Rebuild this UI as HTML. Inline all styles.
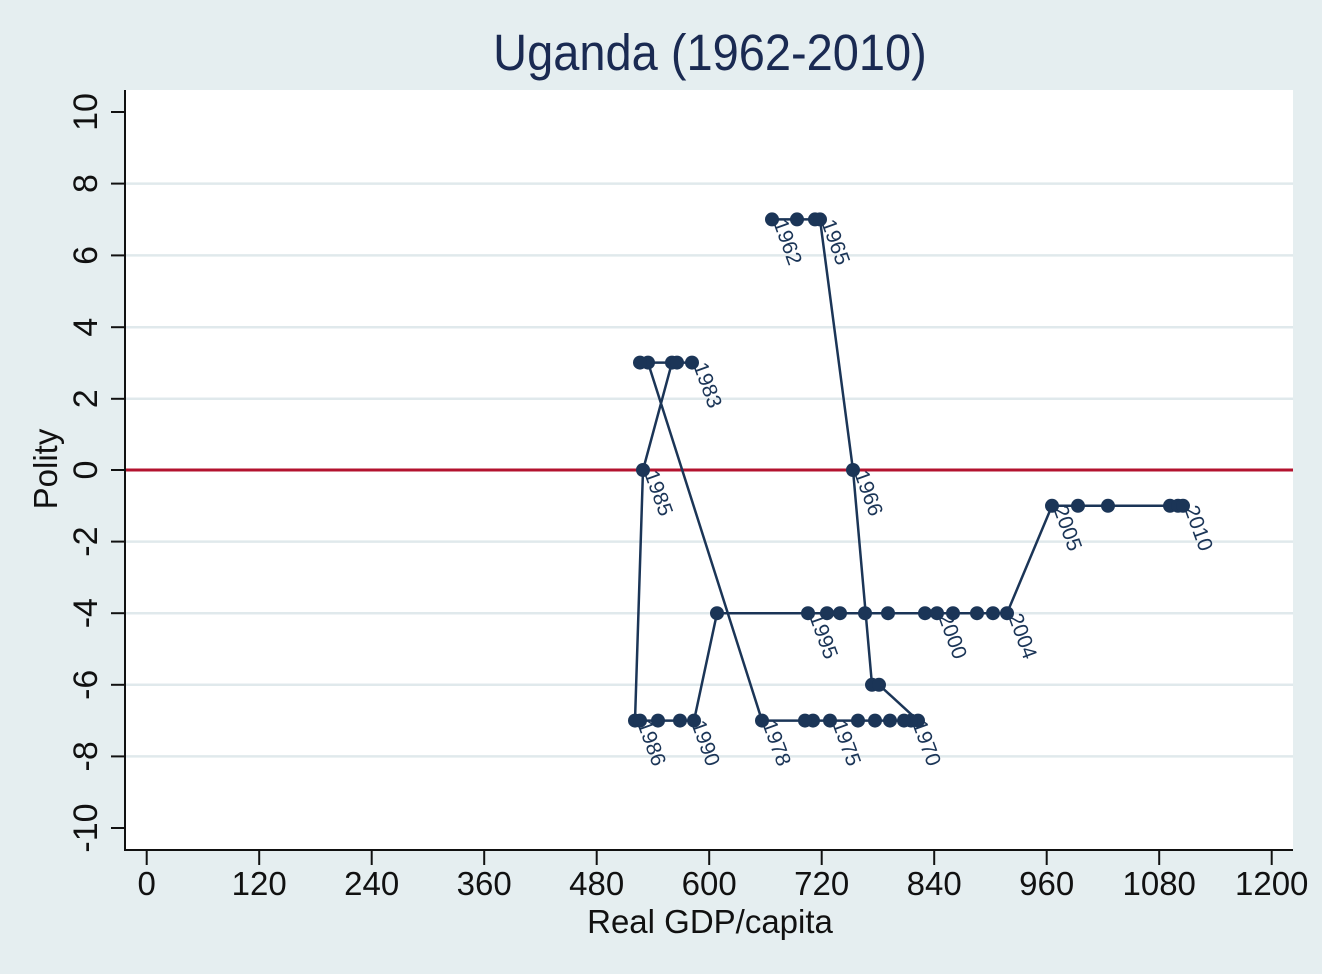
<!DOCTYPE html>
<html><head><meta charset="utf-8"><style>
html,body{margin:0;padding:0;background:#e5eef0;}
svg{display:block;}
text{font-family:"Liberation Sans",Arial,sans-serif;}
</style></head><body>
<svg width="1322" height="974" viewBox="0 0 1322 974" xmlns="http://www.w3.org/2000/svg">
<rect x="0" y="0" width="1322" height="974" fill="#e5eef0"/>
<rect x="125" y="90" width="1168" height="760" fill="#ffffff"/>
<!-- grid -->
<g stroke="#e0e9ec" stroke-width="2.5">
<line x1="125" x2="1293" y1="183.6" y2="183.6"/>
<line x1="125" x2="1293" y1="255.4" y2="255.4"/>
<line x1="125" x2="1293" y1="327.2" y2="327.2"/>
<line x1="125" x2="1293" y1="398.8" y2="398.8"/>
<line x1="125" x2="1293" y1="541.6" y2="541.6"/>
<line x1="125" x2="1293" y1="613.2" y2="613.2"/>
<line x1="125" x2="1293" y1="684.8" y2="684.8"/>
<line x1="125" x2="1293" y1="756.4" y2="756.4"/>
</g>
<line x1="125" x2="1293" y1="470" y2="470" stroke="#b3132f" stroke-width="3"/>
<!-- axes -->
<g stroke="#111" stroke-width="2">
<line x1="125" x2="125" y1="90" y2="851"/>
<line x1="124" x2="1293" y1="850" y2="850"/>
<line x1="111" x2="125" y1="112" y2="112"/>
<line x1="111" x2="125" y1="183.6" y2="183.6"/>
<line x1="111" x2="125" y1="255.4" y2="255.4"/>
<line x1="111" x2="125" y1="327.2" y2="327.2"/>
<line x1="111" x2="125" y1="398.8" y2="398.8"/>
<line x1="111" x2="125" y1="470" y2="470"/>
<line x1="111" x2="125" y1="541.6" y2="541.6"/>
<line x1="111" x2="125" y1="613.2" y2="613.2"/>
<line x1="111" x2="125" y1="684.8" y2="684.8"/>
<line x1="111" x2="125" y1="756.4" y2="756.4"/>
<line x1="111" x2="125" y1="828" y2="828"/>
<line x1="146.7" x2="146.7" y1="850" y2="865"/>
<line x1="259.2" x2="259.2" y1="850" y2="865"/>
<line x1="371.7" x2="371.7" y1="850" y2="865"/>
<line x1="484.2" x2="484.2" y1="850" y2="865"/>
<line x1="596.7" x2="596.7" y1="850" y2="865"/>
<line x1="709.2" x2="709.2" y1="850" y2="865"/>
<line x1="821.7" x2="821.7" y1="850" y2="865"/>
<line x1="934.2" x2="934.2" y1="850" y2="865"/>
<line x1="1046.7" x2="1046.7" y1="850" y2="865"/>
<line x1="1159.2" x2="1159.2" y1="850" y2="865"/>
<line x1="1271.7" x2="1271.7" y1="850" y2="865"/>
</g>
<!-- y tick labels -->
<g font-size="34" fill="#111" text-anchor="middle">
<text transform="translate(97,112) rotate(-90)">10</text>
<text transform="translate(97,183.6) rotate(-90)">8</text>
<text transform="translate(97,255.4) rotate(-90)">6</text>
<text transform="translate(97,327.2) rotate(-90)">4</text>
<text transform="translate(97,398.8) rotate(-90)">2</text>
<text transform="translate(97,470) rotate(-90)">0</text>
<text transform="translate(97,541.6) rotate(-90)">-2</text>
<text transform="translate(97,613.2) rotate(-90)">-4</text>
<text transform="translate(97,684.8) rotate(-90)">-6</text>
<text transform="translate(97,756.4) rotate(-90)">-8</text>
<text transform="translate(97,828) rotate(-90)">-10</text>
</g>
<!-- x tick labels -->
<g font-size="33" fill="#111" text-anchor="middle">
<text x="146.7" y="895">0</text>
<text x="259.2" y="895">120</text>
<text x="371.7" y="895">240</text>
<text x="484.2" y="895">360</text>
<text x="596.7" y="895">480</text>
<text x="709.2" y="895">600</text>
<text x="821.7" y="895">720</text>
<text x="934.2" y="895">840</text>
<text x="1046.7" y="895">960</text>
<text x="1159.2" y="895">1080</text>
<text x="1271.7" y="895">1200</text>
</g>
<text x="710" y="933" font-size="33" fill="#111" text-anchor="middle">Real GDP/capita</text>
<text transform="translate(57,469) rotate(-90)" font-size="33" fill="#111" text-anchor="middle">Polity</text>
<text x="710" y="70" font-size="47" fill="#1a2a52" text-anchor="middle" transform="translate(0,-5.6) scale(1,1.08)">Uganda (1962-2010)</text>
<!-- series -->
<polyline fill="none" stroke="#1b3557" stroke-width="2.5" stroke-linejoin="round" points="
772,219.4 797,219.4 815,219.4 820,219.4 853,470 872,684.8 879,684.8
918,720.6 911,720.6 904,720.6 890,720.6 875,720.6 858,720.6 830,720.6 813,720.6 805,720.6 762,720.6
648,362.6 640,362.6 672,362.6 677,362.6 692,362.6 672,362.6
643,470 635,720.6 640,720.6 658,720.6 680,720.6 694,720.6
717,613.2 808,613.2 827,613.2 840,613.2 865,613.2 888,613.2 925,613.2 937,613.2 953,613.2 977,613.2 993,613.2 1007,613.2
1052,505.8 1078,505.8 1108,505.8 1170,505.8 1178,505.8 1183,505.8"/>
<g fill="#1b3557">
<circle cx="772" cy="219.4" r="7"/><circle cx="797" cy="219.4" r="7"/><circle cx="815" cy="219.4" r="7"/><circle cx="820" cy="219.4" r="7"/>
<circle cx="853" cy="470" r="7"/>
<circle cx="872" cy="684.8" r="7"/><circle cx="879" cy="684.8" r="7"/>
<circle cx="918" cy="720.6" r="7"/><circle cx="911" cy="720.6" r="7"/><circle cx="904" cy="720.6" r="7"/><circle cx="890" cy="720.6" r="7"/><circle cx="875" cy="720.6" r="7"/><circle cx="858" cy="720.6" r="7"/><circle cx="830" cy="720.6" r="7"/><circle cx="813" cy="720.6" r="7"/><circle cx="805" cy="720.6" r="7"/><circle cx="762" cy="720.6" r="7"/>
<circle cx="648" cy="362.6" r="7"/><circle cx="640" cy="362.6" r="7"/><circle cx="672" cy="362.6" r="7"/><circle cx="677" cy="362.6" r="7"/><circle cx="692" cy="362.6" r="7"/>
<circle cx="643" cy="470" r="7"/>
<circle cx="635" cy="720.6" r="7"/><circle cx="640" cy="720.6" r="7"/><circle cx="658" cy="720.6" r="7"/><circle cx="680" cy="720.6" r="7"/><circle cx="694" cy="720.6" r="7"/>
<circle cx="717" cy="613.2" r="7"/><circle cx="808" cy="613.2" r="7"/><circle cx="827" cy="613.2" r="7"/><circle cx="840" cy="613.2" r="7"/><circle cx="865" cy="613.2" r="7"/><circle cx="888" cy="613.2" r="7"/><circle cx="925" cy="613.2" r="7"/><circle cx="937" cy="613.2" r="7"/><circle cx="953" cy="613.2" r="7"/><circle cx="977" cy="613.2" r="7"/><circle cx="993" cy="613.2" r="7"/><circle cx="1007" cy="613.2" r="7"/>
<circle cx="1052" cy="505.8" r="7"/><circle cx="1078" cy="505.8" r="7"/><circle cx="1108" cy="505.8" r="7"/><circle cx="1170" cy="505.8" r="7"/><circle cx="1178" cy="505.8" r="7"/><circle cx="1183" cy="505.8" r="7"/>
</g>
<!-- year labels -->
<g font-size="21" fill="#1b3557">
<text transform="translate(780,220) rotate(70)" dy="0.35em">1962</text>
<text transform="translate(828,220) rotate(70)" dy="0.35em">1965</text>
<text transform="translate(700,363) rotate(70)" dy="0.35em">1983</text>
<text transform="translate(651,471) rotate(70)" dy="0.35em">1985</text>
<text transform="translate(861,471) rotate(70)" dy="0.35em">1966</text>
<text transform="translate(1060,506) rotate(70)" dy="0.35em">2005</text>
<text transform="translate(1191,506) rotate(70)" dy="0.35em">2010</text>
<text transform="translate(816,614) rotate(70)" dy="0.35em">1995</text>
<text transform="translate(945,614) rotate(70)" dy="0.35em">2000</text>
<text transform="translate(1015,614) rotate(70)" dy="0.35em">2004</text>
<text transform="translate(644,721) rotate(70)" dy="0.35em">1986</text>
<text transform="translate(698,721) rotate(70)" dy="0.35em">1990</text>
<text transform="translate(769,721) rotate(70)" dy="0.35em">1978</text>
<text transform="translate(839,721) rotate(70)" dy="0.35em">1975</text>
<text transform="translate(919,721) rotate(70)" dy="0.35em">1970</text>
</g>
</svg>
</body></html>
